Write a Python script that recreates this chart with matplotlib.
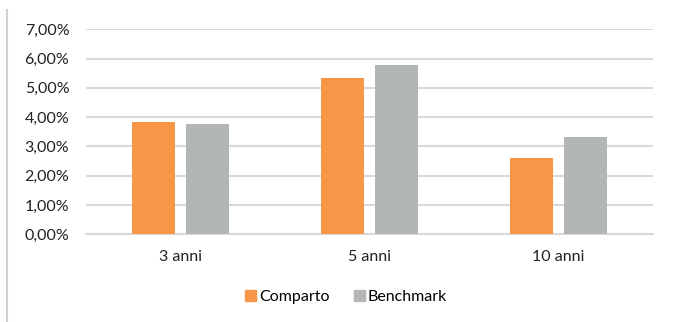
import matplotlib.pyplot as plt
import numpy as np
from matplotlib.lines import Line2D
from matplotlib.patches import Patch
from matplotlib.ticker import FuncFormatter

plt.rcParams['font.family'] = ['Lato', 'DejaVu Sans']

categories = ['3 anni', '5 anni', '10 anni']
comparto = [3.82, 5.34, 2.60]
benchmark = [3.75, 5.79, 3.31]
y_ticks = [0, 1, 2, 3, 4, 5, 6, 7]

orange = '#F79646'
grey = '#B3B6B6'
grid_col = '#D9D9D9'

fig = plt.figure(figsize=(6.73, 3.22), dpi=100)
ax = fig.add_axes([86 / 673, 1 - 234.3 / 322, 567 / 673, (234.3 - 29.3) / 322])

x = np.arange(len(categories))
w = 0.225
off = 0.143
ax.bar(x - off, comparto, w, color=orange, zorder=3)
ax.bar(x + off, benchmark, w, color=grey, zorder=3)

ax.set_xlim(-0.5, 2.5)
ax.set_ylim(0, 7)
ax.set_yticks(y_ticks)
ax.yaxis.set_major_formatter(FuncFormatter(lambda v, p: f'{v:.2f}%'.replace('.', ',')))
ax.set_xticks(x)
ax.set_xticklabels(categories)
ax.tick_params(length=0, labelsize=11.5, colors='#222222')
ax.tick_params(axis='x', pad=11)
ax.tick_params(axis='y', pad=12)
ax.grid(axis='y', color=grid_col, linewidth=1.5, zorder=0)
for s in ['top', 'right', 'left']:
    ax.spines[s].set_visible(False)
ax.spines['bottom'].set_color(grid_col)
ax.spines['bottom'].set_linewidth(1.5)

handles = [Patch(color=orange, label='Comparto'), Patch(color=grey, label='Benchmark')]
fig.legend(handles=handles, loc='center', bbox_to_anchor=(346 / 673, 1 - 297 / 322),
           ncol=2, frameon=False, fontsize=11.5, handlelength=0.7, handleheight=0.7,
           handletextpad=0.2, columnspacing=1.5)

# thin border on the left side
fig.add_artist(Line2D([7 / 673, 7 / 673], [0, 1 - 10 / 322], transform=fig.transFigure,
                      color='#D0D0D0', linewidth=1.5))

fig.savefig('out.png', dpi=100)
